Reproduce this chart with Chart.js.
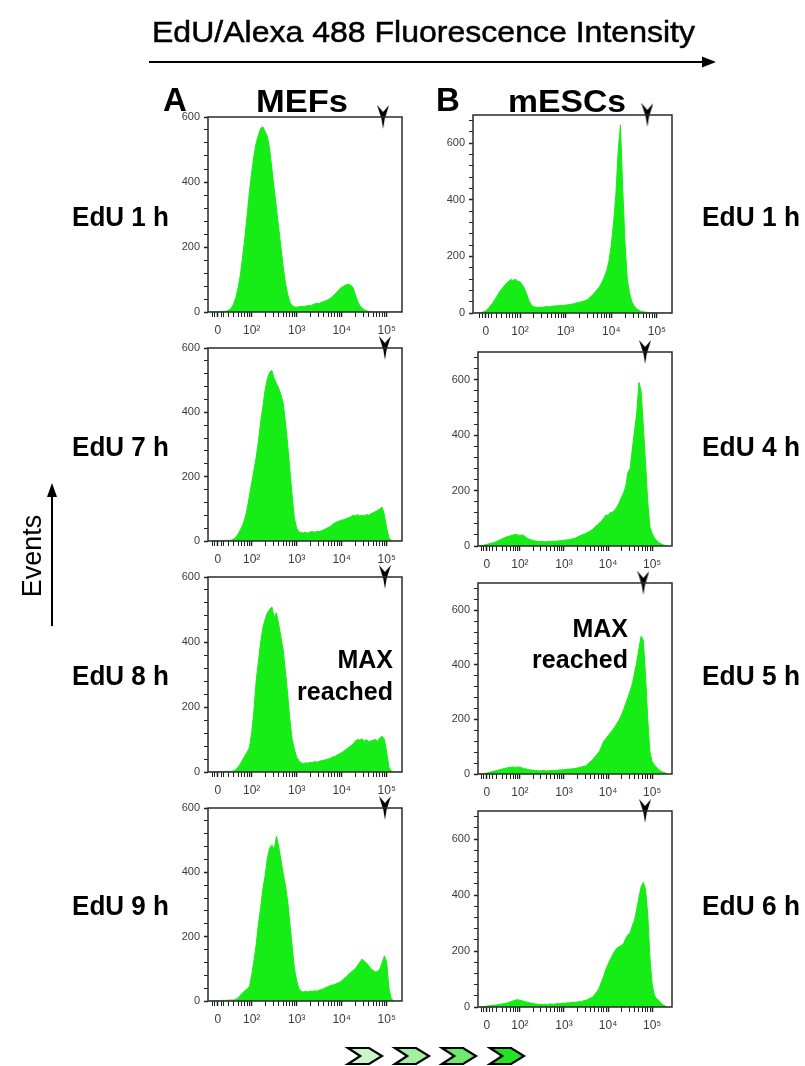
<!DOCTYPE html>
<html>
<head>
<meta charset="utf-8">
<script src="https://cdn.jsdelivr.net/npm/chart.js@4.4.0/dist/chart.umd.min.js"></script>
<style>
  html, body { margin: 0; padding: 0; background: #fff; }
  #page { position: relative; width: 805px; height: 1066px; overflow: hidden; }
  #page canvas { position: absolute; }
  #overlay { position: absolute; left: 0; top: 0; z-index: 2; pointer-events: none; }
</style>
</head>
<body>
<div id="page">
  <svg id="overlay" width="805" height="1066" font-family="Liberation Sans, Arial, sans-serif" fill="#000"></svg>
</div>
<script>
// bin centres, in decades of EdU/Alexa 488 intensity (2 = 10^2, 5 = 10^5)
const binX = [
  1.00, 1.05, 1.10, 1.15, 1.20, 1.25, 1.30, 1.35, 1.40, 1.45,
  1.50, 1.55, 1.60, 1.65, 1.70, 1.75, 1.80, 1.85, 1.90, 1.95,
  2.00, 2.05, 2.10, 2.15, 2.20, 2.25, 2.30, 2.35, 2.40, 2.45,
  2.50, 2.55, 2.60, 2.65, 2.70, 2.75, 2.80, 2.85, 2.90, 2.95,
  3.00, 3.05, 3.10, 3.15, 3.20, 3.25, 3.30, 3.35, 3.40, 3.45,
  3.50, 3.55, 3.60, 3.65, 3.70, 3.75, 3.80, 3.85, 3.90, 3.95,
  4.00, 4.05, 4.10, 4.15, 4.20, 4.25, 4.30, 4.35, 4.40, 4.45,
  4.50, 4.55, 4.60, 4.65, 4.70, 4.75, 4.80, 4.85, 4.90, 4.95,
  5.00, 5.05, 5.10, 5.15, 5.20, 5.25, 5.30, 5.35
];

// MEFs event counts
const mefs1h = [
  0, 0, 0, 1, 1, 1, 2, 2, 2, 3,
  6, 12, 25, 45, 75, 115, 170, 230, 300, 370,
  430, 480, 520, 545, 565, 570, 555, 540, 500, 440,
  380, 320, 260, 200, 140, 90, 55, 30, 20, 16,
  15, 16, 18, 17, 18, 20, 19, 22, 25, 27,
  26, 30, 32, 35, 38, 42, 48, 55, 62, 70,
  76, 80, 84, 86, 82, 76, 55, 35, 20, 12,
  7, 4, 2, 1, 0, 0, 0, 0, 0, 0,
  0, 0, 0, 0, 0, 0, 0, 0
];
const mefs7h = [
  0, 0, 0, 0, 1, 1, 1, 1, 2, 2,
  2, 3, 6, 12, 22, 35, 50, 70, 100, 140,
  180, 220, 260, 310, 370, 420, 470, 505, 525, 530,
  505, 490, 475, 455, 430, 370, 300, 220, 140, 70,
  40, 28, 26, 25, 27, 24, 28, 30, 27, 30,
  29, 32, 35, 38, 42, 46, 52, 56, 60, 62,
  65, 66, 70, 72, 75, 80, 78, 82, 78, 80,
  78, 82, 80, 85, 88, 92, 95, 100, 105, 80,
  40, 10, 2, 0, 0, 0, 0, 0
];
const mefs8h = [
  0, 0, 0, 0, 1, 1, 1, 1, 2, 2,
  2, 2, 4, 8, 15, 25, 38, 50, 62, 75,
  120, 190, 280, 340, 400, 445, 470, 490, 500, 508,
  475, 490, 455, 415, 376, 310, 240, 160, 100, 70,
  45, 35, 28, 26, 28, 27, 30, 29, 32, 30,
  33, 35, 36, 38, 40, 42, 46, 48, 52, 56,
  60, 64, 70, 75, 80, 85, 95, 100, 98, 102,
  95, 100, 92, 96, 98, 100, 95, 105, 110, 100,
  60, 15, 3, 0, 0, 0, 0, 0
];
const mefs9h = [
  0, 0, 0, 0, 1, 1, 1, 2, 2, 2,
  3, 3, 3, 5, 10, 18, 26, 32, 38, 44,
  80, 125, 175, 240, 290, 350, 390, 445, 475, 485,
  470, 512, 480, 440, 397, 360, 310, 240, 170, 100,
  64, 38, 30, 28, 30, 28, 31, 30, 32, 30,
  34, 36, 38, 42, 45, 48, 50, 52, 55, 58,
  62, 70, 75, 82, 88, 95, 100, 110, 120, 130,
  125, 118, 110, 100, 95, 90, 92, 100, 120, 140,
  120, 40, 8, 0, 0, 0, 0, 0
];

// mESCs event counts
const mesc1h = [
  0, 1, 1, 2, 4, 8, 15, 25, 35, 48,
  60, 75, 85, 95, 105, 112, 118, 115, 120, 112,
  110, 100, 85, 65, 42, 28, 22, 20, 20, 21,
  20, 22, 23, 22, 24, 25, 25, 26, 27, 27,
  28, 29, 30, 32, 34, 36, 38, 40, 42, 45,
  50, 58, 65, 75, 85, 95, 110, 128, 150, 185,
  240, 320, 420, 570, 665, 440, 250, 120, 70, 40,
  25, 15, 10, 6, 4, 3, 2, 1, 1, 0,
  0, 0, 0, 0, 0, 0, 0, 0
];
const mesc4h = [
  1, 1, 1, 2, 4, 6, 8, 10, 12, 15,
  18, 22, 26, 30, 33, 35, 38, 40, 42, 40,
  38, 40, 36, 30, 25, 22, 20, 18, 17, 16,
  17, 15, 16, 17, 16, 18, 17, 18, 19, 20,
  21, 22, 22, 24, 26, 28, 32, 36, 40, 42,
  46, 50, 55, 60, 68, 75, 82, 90, 100, 112,
  110, 120, 122, 130, 140, 155, 175, 190, 215, 265,
  280, 350, 415, 480, 590, 560, 430, 300, 160, 68,
  45, 30, 20, 12, 8, 4, 2, 0
];
const mesc5h = [
  1, 1, 1, 1, 2, 4, 6, 8, 10, 12,
  14, 16, 18, 20, 22, 24, 25, 26, 24, 26,
  25, 22, 20, 18, 16, 15, 14, 12, 13, 11,
  12, 13, 11, 12, 13, 12, 13, 14, 15, 15,
  16, 17, 18, 18, 19, 20, 22, 24, 26, 28,
  30, 38, 45, 52, 62, 72, 82, 100, 120, 130,
  140, 150, 160, 172, 185, 198, 215, 235, 258, 280,
  305, 330, 370, 410, 460, 505, 490, 360, 200, 80,
  45, 34, 25, 16, 10, 6, 4, 0
];
const mesc6h = [
  1, 1, 1, 1, 2, 3, 4, 5, 6, 7,
  8, 10, 11, 12, 14, 16, 20, 22, 25, 26,
  24, 22, 20, 18, 16, 14, 12, 11, 10, 10,
  9, 10, 9, 10, 11, 10, 11, 12, 12, 13,
  14, 14, 15, 16, 16, 17, 18, 19, 20, 22,
  24, 28, 32, 35, 45, 55, 68, 90, 110, 135,
  152, 170, 185, 200, 210, 215, 220, 225, 245, 258,
  265, 290, 310, 350, 390, 430, 445, 420, 330, 177,
  80, 42, 30, 22, 14, 8, 3, 0
];

// arrowhead marker positions (decades)
const mefsMarker = [4.92, 4.96, 4.96, 4.96];
const mescMarker = [4.79, 4.84, 4.80, 4.84];

// axis ticks
const xMajorTicks = [1.25, 2, 3, 4, 5];
const xMajorLabels = ['0', '10²', '10³', '10⁴', '10⁵'];
const yLabelStep = 200;
const yMinorStep = 40;
const mefsYMax = 600;
const mescYMax = 700;

// text
const mefsRowLabels = ['EdU 1 h', 'EdU 7 h', 'EdU 8 h', 'EdU 9 h'];
const mescRowLabels = ['EdU 1 h', 'EdU 4 h', 'EdU 5 h', 'EdU 6 h'];

const GREEN = 'rgb(22, 236, 22)';
const TICK_TEXT = '#3b3b3b';
const FONT = 'Liberation Sans, Arial, sans-serif';

// minor x ticks: log positions inside each decade, plus a few in the linear zone round 0
const xMinorTicks = [1.12, 1.18, 1.32, 1.38];
for (let n = 1; n <= 4; n++) {
  for (let k = 2; k <= 9; k++) {
    const v = Math.log10(k) + n;
    if (v > 1.45 && v < 5.32) xMinorTicks.push(v);
  }
}
const xTickVals = xMajorTicks.concat(xMinorTicks).sort((a, b) => a - b);

const isMajorX = v => xMajorTicks.some(t => Math.abs(t - v) < 1e-6);

// downward arrowhead used as the marker point style
const arrowImg = document.createElement('canvas');
arrowImg.width = 12;
arrowImg.height = 24;
(() => {
  const c = arrowImg.getContext('2d');
  c.fillStyle = '#000';
  c.beginPath();
  c.moveTo(0, 0);
  c.lineTo(6, 7);
  c.lineTo(12, 0);
  c.lineTo(7.6, 14);
  c.lineTo(6, 24);
  c.lineTo(4.4, 14);
  c.closePath();
  c.fill();
})();

// box round the plot area
const framePlugin = {
  id: 'frame',
  afterDatasetsDraw(chart) {
    const { ctx, chartArea: a } = chart;
    ctx.save();
    ctx.strokeStyle = '#2b2b2b';
    ctx.lineWidth = 1.5;
    ctx.strokeRect(a.left, a.top, a.right - a.left, a.bottom - a.top);
    ctx.restore();
  }
};

// panel layout: plot box edges in page pixels
const panels = [
  { counts: mefs1h, marker: mefsMarker[0], yMax: mefsYMax, cLeft: 150, boxL: 208, boxR: 402, top: 117, zero: 312, xMin: 1.03, xMax: 5.34 },
  { counts: mefs7h, marker: mefsMarker[1], yMax: mefsYMax, cLeft: 150, boxL: 208, boxR: 402, top: 348, zero: 541, xMin: 1.03, xMax: 5.34 },
  { counts: mefs8h, marker: mefsMarker[2], yMax: mefsYMax, cLeft: 150, boxL: 208, boxR: 402, top: 577, zero: 772, xMin: 1.03, xMax: 5.34 },
  { counts: mefs9h, marker: mefsMarker[3], yMax: mefsYMax, cLeft: 150, boxL: 208, boxR: 402, top: 808, zero: 1001, xMin: 1.03, xMax: 5.34 },
  { counts: mesc1h, marker: mescMarker[0], yMax: mescYMax, cLeft: 420, boxL: 473, boxR: 672, top: 115, zero: 313, xMin: 0.97, xMax: 5.33 },
  { counts: mesc4h, marker: mescMarker[1], yMax: mescYMax, cLeft: 420, boxL: 478, boxR: 672, top: 352, zero: 546, xMin: 1.05, xMax: 5.45 },
  { counts: mesc5h, marker: mescMarker[2], yMax: mescYMax, cLeft: 420, boxL: 478, boxR: 672, top: 583, zero: 774, xMin: 1.05, xMax: 5.45 },
  { counts: mesc6h, marker: mescMarker[3], yMax: mescYMax, cLeft: 420, boxL: 478, boxR: 672, top: 811, zero: 1007, xMin: 1.05, xMax: 5.45 }
];

const PAD_TOP = 14;
const X_AXIS_H = 30;
const CANVAS_W = 260;
const page = document.getElementById('page');

const makeChart = (p) => {
  const canvas = document.createElement('canvas');
  canvas.width = CANVAS_W;
  canvas.height = PAD_TOP + (p.zero - p.top) + X_AXIS_H;
  canvas.style.left = p.cLeft + 'px';
  canvas.style.top = (p.top - PAD_TOP) + 'px';
  page.appendChild(canvas);

  const yTicks = [];
  for (let v = 0; v <= p.yMax; v += yMinorStep) yTicks.push(v);

  new Chart(canvas, {
    type: 'line',
    data: {
      datasets: [
        {
          data: binX.map((x, i) => ({ x, y: p.counts[i] })),
          fill: 'origin',
          backgroundColor: GREEN,
          borderColor: GREEN,
          borderWidth: 1,
          pointRadius: 0,
          tension: 0
        },
        {
          data: [{ x: p.marker, y: p.yMax }],
          showLine: false,
          pointStyle: arrowImg,
          pointRadius: 12,
          clip: false
        }
      ]
    },
    options: {
      responsive: false,
      animation: false,
      events: [],
      layout: {
        autoPadding: false,
        padding: { top: PAD_TOP, right: p.cLeft + CANVAS_W - p.boxR, left: 0, bottom: 0 }
      },
      plugins: { legend: { display: false }, tooltip: { enabled: false } },
      scales: {
        x: {
          type: 'linear',
          min: p.xMin,
          max: p.xMax,
          afterBuildTicks: ax => { ax.ticks = xTickVals.map(v => ({ value: v })); },
          afterFit: ax => {
            ax.height = X_AXIS_H;
            ax.paddingLeft = 0;
            ax.paddingRight = 0;
          },
          border: { display: false },
          grid: {
            drawOnChartArea: false,
            tickLength: 5,
            tickColor: '#222',
            tickWidth: ctx => (ctx.tick && isMajorX(ctx.tick.value) ? 1.5 : 1)
          },
          ticks: {
            autoSkip: false,
            maxRotation: 0,
            padding: 6,
            color: TICK_TEXT,
            font: { family: FONT, size: 12 },
            callback: v => {
              const i = xMajorTicks.findIndex(t => Math.abs(t - v) < 1e-6);
              return i >= 0 ? xMajorLabels[i] : '';
            }
          }
        },
        y: {
          min: 0,
          max: p.yMax,
          afterBuildTicks: ax => { ax.ticks = yTicks.map(v => ({ value: v })); },
          afterFit: ax => {
            ax.width = p.boxL - p.cLeft;
            ax.paddingTop = 0;
            ax.paddingBottom = 0;
          },
          border: { display: false },
          grid: {
            drawOnChartArea: false,
            tickLength: 4,
            tickColor: '#222',
            tickWidth: ctx => (ctx.tick && ctx.tick.value % yLabelStep === 0 ? 1.5 : 1)
          },
          ticks: {
            autoSkip: false,
            padding: 4,
            color: TICK_TEXT,
            font: { family: FONT, size: 11 },
            callback: v => (v % yLabelStep === 0 ? String(v) : '')
          }
        }
      }
    },
    plugins: [framePlugin]
  });
};

panels.forEach(makeChart);

// text and decorations
const svg = document.getElementById('overlay');
const NS = 'http://www.w3.org/2000/svg';
const add = (tag, attrs, text) => {
  const el = document.createElementNS(NS, tag);
  Object.entries(attrs).forEach(([k, v]) => el.setAttribute(k, v));
  if (text !== undefined) el.textContent = text;
  svg.appendChild(el);
  return el;
};

add('text', { x: 152, y: 42, 'font-size': 30, textLength: 543, lengthAdjust: 'spacingAndGlyphs', stroke: '#000', 'stroke-width': 0.5 }, 'EdU/Alexa 488 Fluorescence Intensity');
add('line', { x1: 149, y1: 62, x2: 704, y2: 62, stroke: '#000', 'stroke-width': 2 });
add('polygon', { points: '716,62 702,56.5 702,67.5' });

add('text', { x: 163, y: 111, 'font-size': 33, 'font-weight': 'bold' }, 'A');
add('text', { x: 256, y: 112, 'font-size': 31, 'font-weight': 'bold', textLength: 92, lengthAdjust: 'spacingAndGlyphs' }, 'MEFs');
add('text', { x: 436, y: 111, 'font-size': 33, 'font-weight': 'bold' }, 'B');
add('text', { x: 508, y: 112, 'font-size': 31, 'font-weight': 'bold', textLength: 118, lengthAdjust: 'spacingAndGlyphs' }, 'mESCs');

const rowBase = [226, 456, 685, 915];
mefsRowLabels.forEach((t, i) => add('text', { x: 72, y: rowBase[i], 'font-size': 27, 'font-weight': 'bold', textLength: 97, lengthAdjust: 'spacingAndGlyphs' }, t));
mescRowLabels.forEach((t, i) => add('text', { x: 702, y: rowBase[i], 'font-size': 27, 'font-weight': 'bold', textLength: 98, lengthAdjust: 'spacingAndGlyphs' }, t));

add('text', { x: 0, y: 0, 'font-size': 27, 'text-anchor': 'middle', transform: 'translate(41,556) rotate(-90)' }, 'Events');
add('line', { x1: 52, y1: 626, x2: 52, y2: 494, stroke: '#000', 'stroke-width': 2 });
add('polygon', { points: '52,483 47,497 57,497' });

add('text', { x: 393, y: 668, 'font-size': 25, 'font-weight': 'bold', 'text-anchor': 'end' }, 'MAX');
add('text', { x: 393, y: 700, 'font-size': 25, 'font-weight': 'bold', 'text-anchor': 'end' }, 'reached');
add('text', { x: 628, y: 637, 'font-size': 25, 'font-weight': 'bold', 'text-anchor': 'end' }, 'MAX');
add('text', { x: 628, y: 668, 'font-size': 25, 'font-weight': 'bold', 'text-anchor': 'end' }, 'reached');

// chevrons at the bottom, light to bright green
const chevronX = [348, 395, 442, 490];
const chevronFill = ['#c9f7c9', '#a2f0a2', '#6de96d', '#22e422'];
chevronX.forEach((x0, i) => {
  const w = 34, h = 16, y0 = 1048;
  const pts = [[0, 0], [w * 0.62, 0], [w, h / 2], [w * 0.62, h], [0, h], [w * 0.36, h / 2]]
    .map(([a, b]) => (x0 + a) + ',' + (y0 + b)).join(' ');
  add('polygon', { points: pts, fill: chevronFill[i], stroke: '#000', 'stroke-width': 2.2, 'stroke-linejoin': 'miter' });
});
</script>
</body>
</html>
